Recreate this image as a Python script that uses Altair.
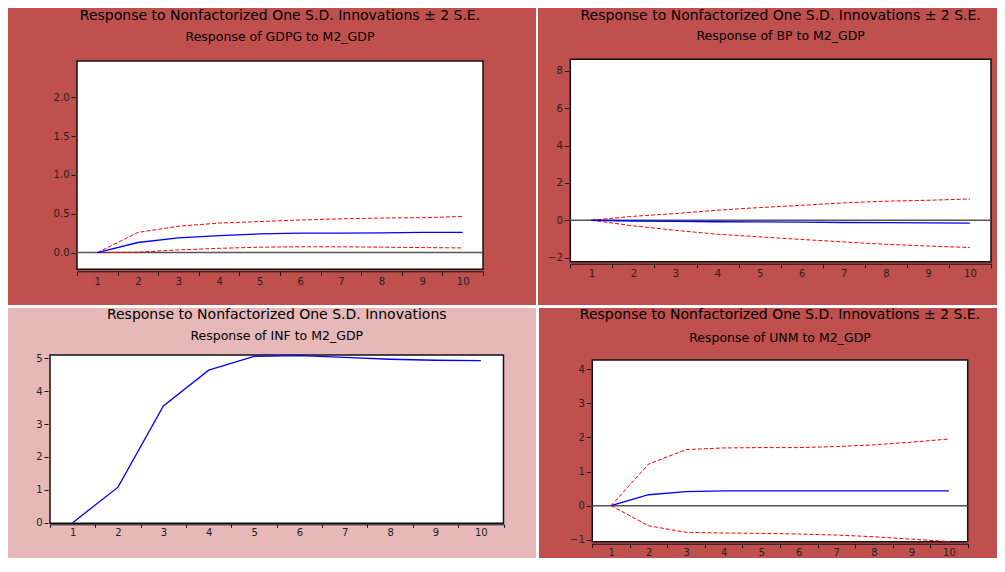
import altair as alt
import pandas as pd

# ---------------- data ----------------
periods = list(range(1, 11))

gdpg_resp = [0.0, 0.13, 0.19, 0.22, 0.24, 0.25, 0.25, 0.255, 0.26, 0.26]
gdpg_upper = [0.0, 0.26, 0.34, 0.38, 0.40, 0.42, 0.435, 0.445, 0.45, 0.465]
gdpg_lower = [0.0, 0.005, 0.035, 0.055, 0.07, 0.075, 0.075, 0.07, 0.065, 0.06]

bp_resp = [0.0, -0.04, -0.06, -0.08, -0.09, -0.10, -0.12, -0.13, -0.14, -0.15]
bp_upper = [0.0, 0.21, 0.36, 0.54, 0.68, 0.80, 0.93, 1.02, 1.07, 1.14]
bp_lower = [0.0, -0.30, -0.54, -0.75, -0.89, -1.03, -1.16, -1.29, -1.38, -1.46]

inf_resp = [0.0, 1.08, 3.55, 4.64, 5.06, 5.08, 5.03, 4.97, 4.94, 4.93]

unm_resp = [0.0, 0.32, 0.41, 0.43, 0.43, 0.43, 0.43, 0.43, 0.43, 0.43]
unm_upper = [0.0, 1.22, 1.64, 1.69, 1.70, 1.70, 1.73, 1.78, 1.86, 1.95]
unm_lower = [0.0, -0.59, -0.78, -0.80, -0.81, -0.83, -0.86, -0.91, -0.98, -1.05]

x_tick_values = [0.5 + 0.5 * i for i in range(21)]

TITLE_SE = "Response to Nonfactorized One S.D. Innovations \u00b1 2 S.E."
TITLE_PLAIN = "Response to Nonfactorized One S.D. Innovations"

RED = "#C0504D"
PINK = "#E6B8B7"
FONT = "DejaVu Sans"


def make_panel(resp, upper, lower, w, h, box, ydom, yvals, yfmt, bg,
               title, sub, ty, sy, xoff=2, xtick=4, xpad=1, zero=True):
    """w,h: whole panel; box: (left, right, top, bottom) of the plot frame inside the panel."""
    bx1, bx2, by1, by2 = box
    df = pd.DataFrame({"period": periods, "resp": resp})
    if upper is not None:
        df["upper"] = upper
        df["lower"] = lower
    one = pd.DataFrame({"k": [0]})

    xscale = alt.Scale(domain=[0.5, 10.5], range=[bx1, bx2], nice=False, zero=False)
    yscale = alt.Scale(domain=ydom, range=[by2, by1], nice=False, zero=False)
    xaxis = alt.Axis(
        values=x_tick_values,
        labelExpr="datum.value % 1 === 0 ? '' + datum.value : ''",
        tickOpacity={"condition": {"test": "datum.value % 1 === 0", "value": 0}, "value": 1},
        title=None, grid=False, offset=-(h - by2 - xoff), tickSize=xtick, labelPadding=xpad,
        domain=True, domainColor="#111", domainWidth=1, tickColor="#111",
        labelFont=FONT, labelFontSize=10, labelColor="#222",
        labelOverlap=False, labelFlush=False, zindex=1,
    )
    yaxis = alt.Axis(
        values=yvals, format=yfmt, title=None, grid=False, domain=False,
        offset=-(bx1 - 2), tickSize=4, labelPadding=2, tickColor="#111",
        labelFont=FONT, labelFontSize=10, labelColor="#222",
        labelOverlap=False, labelFlush=False, zindex=1,
    )

    def X():
        return alt.X("period:Q", scale=xscale, axis=xaxis)

    def Y(f):
        return alt.Y(f + ":Q", scale=yscale, axis=yaxis)

    layers = [
        alt.Chart(one).mark_rect(fill=bg).encode(
            x=alt.value(0), x2=alt.value(w), y=alt.value(0), y2=alt.value(h)),
        alt.Chart(one).mark_rect(fill="white", stroke="#111", strokeWidth=1.5).encode(
            x=alt.value(bx1), x2=alt.value(bx2), y=alt.value(by1), y2=alt.value(by2)),
    ]
    if zero:
        layers.append(
            alt.Chart(pd.DataFrame({"z": [0]})).mark_rule(color="#555", strokeWidth=1.5).encode(
                y=Y("z"), x=alt.value(bx1), x2=alt.value(bx2)))
    if upper is not None:
        layers.append(alt.Chart(df).mark_line(color="#FF0000", strokeWidth=1, strokeDash=[4, 2]).encode(
            x=X(), y=Y("lower")))
        layers.append(alt.Chart(df).mark_line(color="#FF0000", strokeWidth=1, strokeDash=[4, 2]).encode(
            x=X(), y=Y("upper")))
    layers.append(alt.Chart(df).mark_line(color="#0000FF", strokeWidth=1.3).encode(
        x=X(), y=Y("resp")))
    cx = (bx1 + bx2) / 2
    layers.append(alt.Chart(one).mark_text(font=FONT, fontSize=14, color="black",
                                            align="center", baseline="middle").encode(
        x=alt.value(cx), y=alt.value(ty), text=alt.value(title)))
    layers.append(alt.Chart(one).mark_text(font=FONT, fontSize=12.5, color="black",
                                            align="center", baseline="middle").encode(
        x=alt.value(cx), y=alt.value(sy), text=alt.value(sub)))
    return alt.layer(*layers).properties(width=w, height=h)


tl = make_panel(gdpg_resp, gdpg_upper, gdpg_lower, 528, 297, (69, 475, 53, 261.3),
                [-0.215, 2.468], [0, 0.5, 1.0, 1.5, 2.0], ".1f", RED,
                TITLE_SE, "Response of GDPG to M2_GDP", 7.5, 29)
tr = make_panel(bp_resp, bp_upper, bp_lower, 459, 297, (32.3, 453, 51.3, 253.7),
                [-2.22, 8.62], [-2, 0, 2, 4, 6, 8], "d", RED,
                TITLE_SE, "Response of BP to M2_GDP", 7.5, 28)
bl = make_panel(inf_resp, None, None, 528, 250, (42, 495.5, 47, 215.3),
                [-0.02, 5.10], [0, 1, 2, 3, 4, 5], "d", PINK,
                TITLE_PLAIN, "Response of INF to M2_GDP", 7, 27.7,
                xoff=1, xtick=3, xpad=0.5, zero=False)
br = make_panel(unm_resp, unm_upper, unm_lower, 458, 250, (53.3, 428.7, 52, 233.7),
                [-1.055, 4.264], [-1, 0, 1, 2, 3, 4], "d", RED,
                TITLE_SE, "Response of UNM to M2_GDP", 7, 30.3,
                xoff=2, xtick=4, xpad=0)

row1 = alt.hconcat(tl, tr, spacing=2)
row2 = alt.hconcat(bl, br, spacing=3)
chart = alt.vconcat(row1, row2, spacing=3).properties(
    padding=0, background="white"
).configure_view(stroke=None)

chart.save("out.html", embed_options={"renderer": "svg", "actions": False})
